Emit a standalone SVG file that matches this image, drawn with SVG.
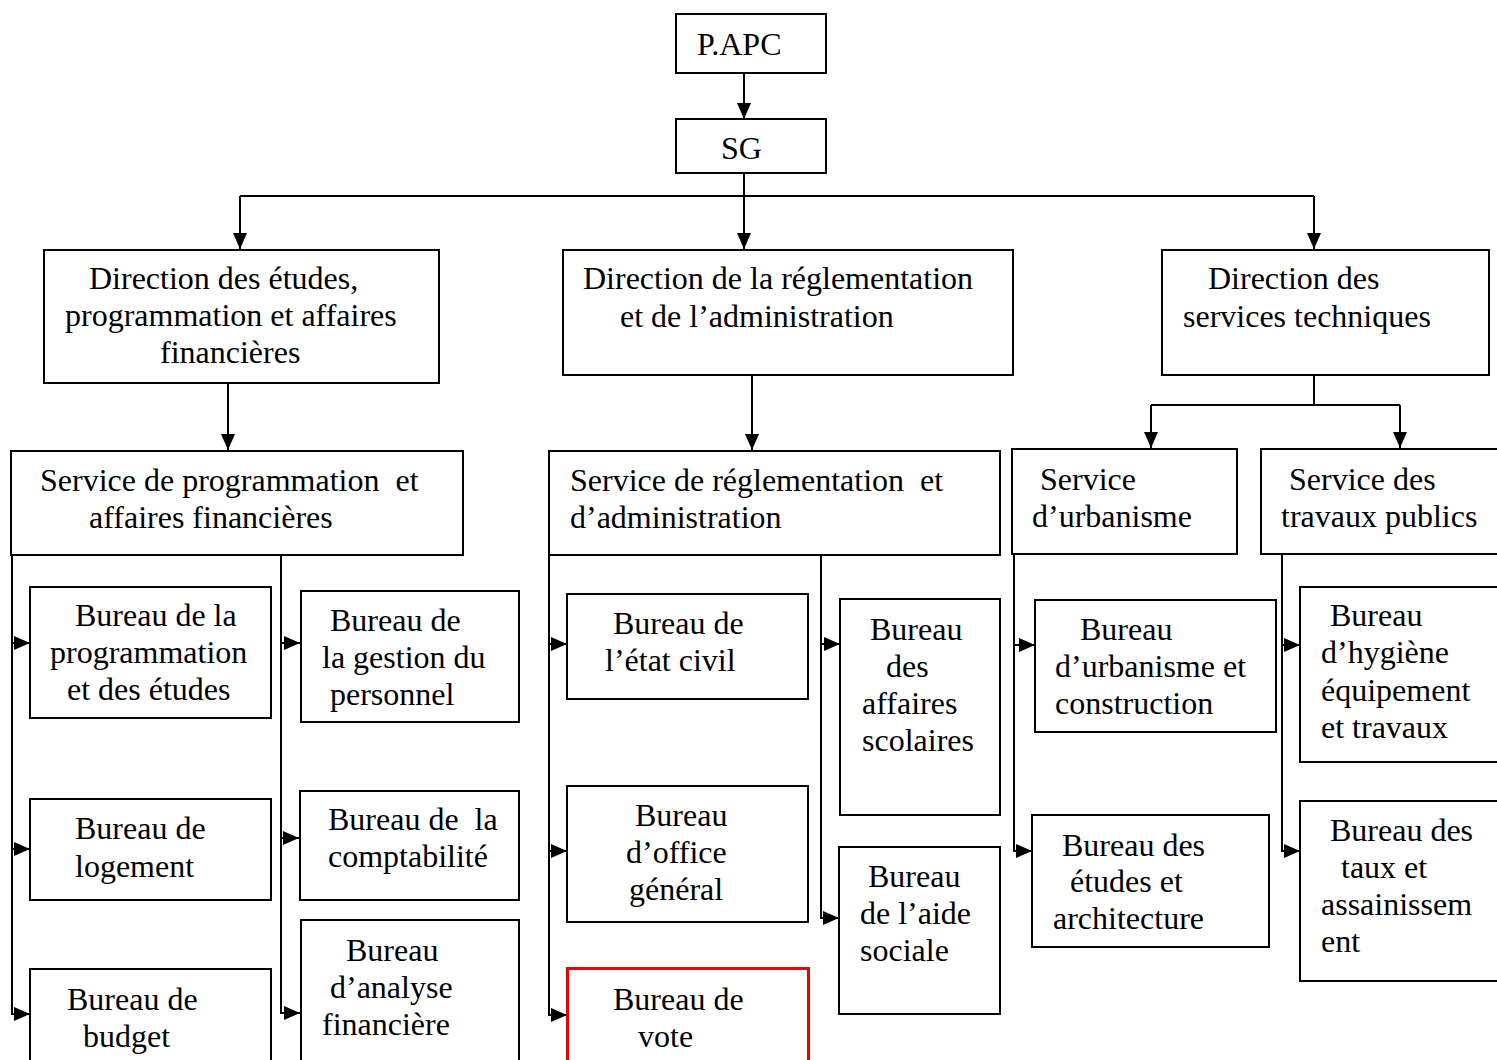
<svg xmlns="http://www.w3.org/2000/svg" width="1497" height="1060" viewBox="0 0 1497 1060">
<style>
.box{fill:#fff;stroke:#000;stroke-width:2}
.red{fill:#fff;stroke:#e00;stroke-width:3}
.t{font-family:"Liberation Serif","Times New Roman",serif;font-size:32px;fill:#000}
.c{fill:none;stroke:#000;stroke-width:2}
</style>
<defs>
<marker id="ah" viewBox="0 0 16 14" refX="16" refY="7" markerWidth="16" markerHeight="14" markerUnits="userSpaceOnUse" orient="auto">
<path d="M0,0 L16,7 L0,14 z" fill="#000"/>
</marker>
</defs>
<rect width="1497" height="1060" fill="#fff"/>
<g id="connectors">
<path class="c" d="M744,73 V119" marker-end="url(#ah)"/>
<path class="c" d="M744,173 V249" marker-end="url(#ah)"/>
<path class="c" d="M240,196 H1314"/>
<path class="c" d="M240,196 V249" marker-end="url(#ah)"/>
<path class="c" d="M1314,196 V249" marker-end="url(#ah)"/>
<path class="c" d="M228,383 V450" marker-end="url(#ah)"/>
<path class="c" d="M752,375 V450" marker-end="url(#ah)"/>
<path class="c" d="M1314,375 V405"/>
<path class="c" d="M1151,405 H1400"/>
<path class="c" d="M1151,405 V448" marker-end="url(#ah)"/>
<path class="c" d="M1400,405 V448" marker-end="url(#ah)"/>
<path class="c" d="M12,555 V1014 H30" marker-end="url(#ah)"/>
<path class="c" d="M12,643 H30" marker-end="url(#ah)"/>
<path class="c" d="M12,849 H30" marker-end="url(#ah)"/>
<path class="c" d="M281,555 V1013 H300" marker-end="url(#ah)"/>
<path class="c" d="M281,643 H300" marker-end="url(#ah)"/>
<path class="c" d="M281,838 H299" marker-end="url(#ah)"/>
<path class="c" d="M549,555 V1015 H567" marker-end="url(#ah)"/>
<path class="c" d="M549,644 H567" marker-end="url(#ah)"/>
<path class="c" d="M549,851 H567" marker-end="url(#ah)"/>
<path class="c" d="M821,555 V918 H839" marker-end="url(#ah)"/>
<path class="c" d="M821,644 H840" marker-end="url(#ah)"/>
<path class="c" d="M1014,554 V851 H1032" marker-end="url(#ah)"/>
<path class="c" d="M1014,645 H1035" marker-end="url(#ah)"/>
<path class="c" d="M1282,554 V851 H1300" marker-end="url(#ah)"/>
<path class="c" d="M1282,645 H1300" marker-end="url(#ah)"/>
</g>
<g id="papc"><rect class="box" x="676" y="14" width="150" height="59"/><text class="t" x="697" y="55">P.APC</text></g>
<g id="sg"><rect class="box" x="676" y="119" width="150" height="54"/><text class="t" x="721" y="159">SG</text></g>
<g id="dir-etudes"><rect class="box" x="44" y="250" width="395" height="133"/>
<text class="t"><tspan x="89" y="289">Direction des études,</tspan><tspan x="65" y="326">programmation et affaires</tspan><tspan x="160" y="363">financières</tspan></text></g>
<g id="dir-reglementation"><rect class="box" x="563" y="250" width="450" height="125"/>
<text class="t"><tspan x="583" y="289">Direction de la réglementation</tspan><tspan x="620" y="327">et de l’administration</tspan></text></g>
<g id="dir-techniques"><rect class="box" x="1162" y="250" width="327" height="125"/>
<text class="t"><tspan x="1208" y="289">Direction des</tspan><tspan x="1183" y="327">services techniques</tspan></text></g>
<g id="svc-programmation"><rect class="box" x="11" y="451" width="452" height="104"/>
<text class="t" xml:space="preserve"><tspan x="40" y="491">Service de programmation  et</tspan><tspan x="89" y="528">affaires financières</tspan></text></g>
<g id="svc-reglementation"><rect class="box" x="549" y="451" width="451" height="104"/>
<text class="t" xml:space="preserve"><tspan x="570" y="491">Service de réglementation  et</tspan><tspan x="570" y="528">d’administration</tspan></text></g>
<g id="svc-urbanisme"><rect class="box" x="1012" y="449" width="225" height="105"/>
<text class="t"><tspan x="1040" y="490">Service</tspan><tspan x="1032" y="527">d’urbanisme</tspan></text></g>
<g id="svc-travaux"><rect class="box" x="1261" y="449" width="240" height="105"/>
<text class="t"><tspan x="1289" y="490">Service des</tspan><tspan x="1281" y="527">travaux publics</tspan></text></g>
<g id="b-programmation"><rect class="box" x="30" y="587" width="241" height="131"/>
<text class="t"><tspan x="75" y="626">Bureau de la</tspan><tspan x="50" y="663">programmation</tspan><tspan x="67" y="700">et des études</tspan></text></g>
<g id="b-logement"><rect class="box" x="30" y="799" width="241" height="101"/>
<text class="t"><tspan x="75" y="839">Bureau de</tspan><tspan x="75" y="877">logement</tspan></text></g>
<g id="b-budget"><rect class="box" x="30" y="969" width="241" height="100"/>
<text class="t"><tspan x="67" y="1010">Bureau de</tspan><tspan x="83" y="1047">budget</tspan></text></g>
<g id="b-personnel"><rect class="box" x="301" y="591" width="218" height="131"/>
<text class="t"><tspan x="330" y="631">Bureau de</tspan><tspan x="322" y="668">la gestion du</tspan><tspan x="330" y="705">personnel</tspan></text></g>
<g id="b-comptabilite"><rect class="box" x="300" y="791" width="219" height="109"/>
<text class="t" xml:space="preserve"><tspan x="328" y="830">Bureau de  la</tspan><tspan x="328" y="867">comptabilité</tspan></text></g>
<g id="b-analyse"><rect class="box" x="301" y="920" width="218" height="150"/>
<text class="t"><tspan x="346" y="961">Bureau</tspan><tspan x="330" y="998">d’analyse</tspan><tspan x="322" y="1035">financière</tspan></text></g>
<g id="b-etat-civil"><rect class="box" x="567" y="594" width="241" height="105"/>
<text class="t"><tspan x="613" y="634">Bureau de</tspan><tspan x="605" y="671">l’état civil</tspan></text></g>
<g id="b-office"><rect class="box" x="567" y="786" width="241" height="136"/>
<text class="t"><tspan x="635" y="826">Bureau</tspan><tspan x="626" y="863">d’office</tspan><tspan x="629" y="900">général</tspan></text></g>
<g id="b-vote"><rect class="red" x="567.5" y="968.5" width="241" height="100"/>
<text class="t"><tspan x="613" y="1010">Bureau de</tspan><tspan x="638" y="1047">vote</tspan></text></g>
<g id="b-scolaires"><rect class="box" x="840" y="599" width="160" height="216"/>
<text class="t"><tspan x="870" y="640">Bureau</tspan><tspan x="886" y="677">des</tspan><tspan x="862" y="714">affaires</tspan><tspan x="862" y="751">scolaires</tspan></text></g>
<g id="b-aide-sociale"><rect class="box" x="839" y="847" width="161" height="167"/>
<text class="t"><tspan x="868" y="887">Bureau</tspan><tspan x="860" y="924">de l’aide</tspan><tspan x="860" y="961">sociale</tspan></text></g>
<g id="b-urbanisme"><rect class="box" x="1035" y="600" width="241" height="132"/>
<text class="t"><tspan x="1080" y="640">Bureau</tspan><tspan x="1055" y="677">d’urbanisme et</tspan><tspan x="1055" y="714">construction</tspan></text></g>
<g id="b-architecture"><rect class="box" x="1032" y="815" width="237" height="132"/>
<text class="t"><tspan x="1062" y="856">Bureau des</tspan><tspan x="1070" y="892">études et</tspan><tspan x="1053" y="929">architecture</tspan></text></g>
<g id="b-hygiene"><rect class="box" x="1300" y="587" width="201" height="175"/>
<text class="t"><tspan x="1330" y="626">Bureau</tspan><tspan x="1321" y="663">d’hygiène</tspan><tspan x="1321" y="701">équipement</tspan><tspan x="1321" y="738">et travaux</tspan></text></g>
<g id="b-assainissement"><rect class="box" x="1300" y="801" width="201" height="180"/>
<text class="t"><tspan x="1330" y="841">Bureau des</tspan><tspan x="1341" y="878">taux et</tspan><tspan x="1321" y="915">assainissem</tspan><tspan x="1321" y="952">ent</tspan></text></g>
</svg>
